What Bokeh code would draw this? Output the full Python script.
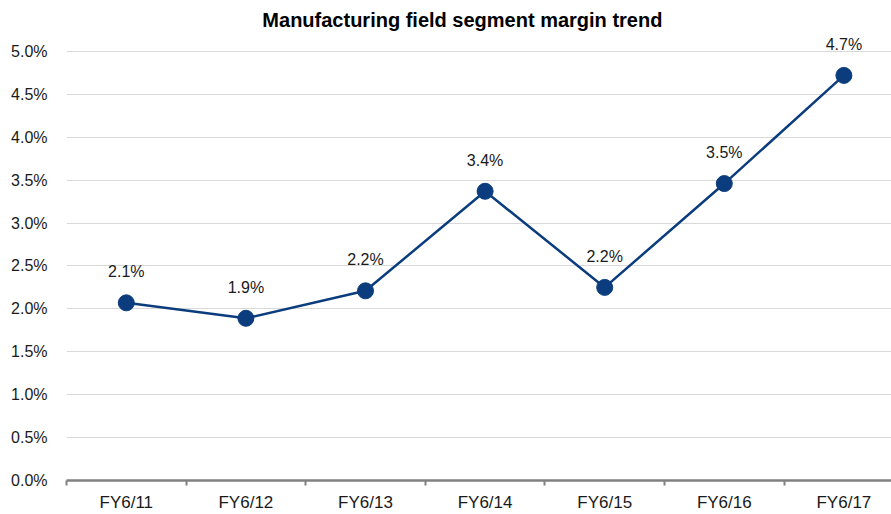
from bokeh.plotting import figure
from bokeh.models import ColumnDataSource, FixedTicker, Label, Range1d
from bokeh.core.properties import value
from bokeh.embed import file_html
from bokeh.resources import INLINE

categories = ["FY6/11", "FY6/12", "FY6/13", "FY6/14", "FY6/15", "FY6/16", "FY6/17"]
margins = [2.07, 1.89, 2.21, 3.37, 2.25, 3.46, 4.72]
labels = ["2.1%", "1.9%", "2.2%", "3.4%", "2.2%", "3.5%", "4.7%"]
y_ticks = [0.0, 0.5, 1.0, 1.5, 2.0, 2.5, 3.0, 3.5, 4.0, 4.5, 5.0]
title_text = "Manufacturing field segment margin trend"

FONT = "Liberation Sans"
xs = [i + 0.5 for i in range(len(categories))]
src = ColumnDataSource(dict(x=xs, y=margins, lab=labels))

p = figure(width=891, height=514, output_backend="svg", toolbar_location=None,
           x_range=Range1d(0, 6.898), y_range=Range1d(0, 5.593),
           min_border_left=66, min_border_right=0, min_border_top=0, min_border_bottom=33)
p.outline_line_color = None
p.background_fill_color = "white"
p.border_fill_color = "white"

p.xgrid.grid_line_color = None
p.ygrid.grid_line_color = "#d9d9d9"
p.ygrid.grid_line_width = 1

p.yaxis.ticker = FixedTicker(ticks=y_ticks)
p.yaxis.major_label_overrides = {t: f"{t:.1f}%" for t in y_ticks}
p.yaxis.axis_line_color = None
p.yaxis.major_tick_line_color = None
p.yaxis.minor_tick_line_color = None
p.yaxis.major_tick_out = 0
p.yaxis.major_tick_in = 0
p.yaxis.major_label_standoff = 19
p.yaxis.major_label_text_font = FONT
p.yaxis.major_label_text_font_size = "16px"
p.yaxis.major_label_text_color = "#1a1a1a"

p.xaxis.ticker = FixedTicker(ticks=xs, minor_ticks=list(range(len(categories))))
p.xaxis.major_label_overrides = {x: c for x, c in zip(xs, categories)}
p.xaxis.axis_line_color = "#808080"
p.xaxis.axis_line_width = 2.5
p.xaxis.major_tick_line_color = None
p.xaxis.major_tick_out = 0
p.xaxis.major_tick_in = 0
p.xaxis.minor_tick_line_color = "#808080"
p.xaxis.minor_tick_line_width = 2
p.xaxis.minor_tick_out = 5
p.xaxis.minor_tick_in = 0
p.xaxis.major_label_standoff = 7
p.xaxis.major_label_text_font = FONT
p.xaxis.major_label_text_font_size = "17px"
p.xaxis.major_label_text_color = "#1a1a1a"

p.line("x", "y", source=src, line_color="#0b3d7e", line_width=2.5)
p.scatter("x", "y", source=src, size=16, fill_color="#0b3d7e", line_color="#0b3d7e")
p.text("x", "y", text="lab", source=src, y_offset=-31, text_align="center",
       text_baseline="middle", text_font=value(FONT), text_font_size="16px",
       text_color="#1a1a1a")

p.add_layout(Label(x=3.31, y=5.36, text=title_text, text_align="center",
                   text_baseline="middle", text_font=FONT, text_font_size="20px",
                   text_font_style="bold", text_color="#000000"))

open("out.html", "w").write(file_html(p, INLINE))
